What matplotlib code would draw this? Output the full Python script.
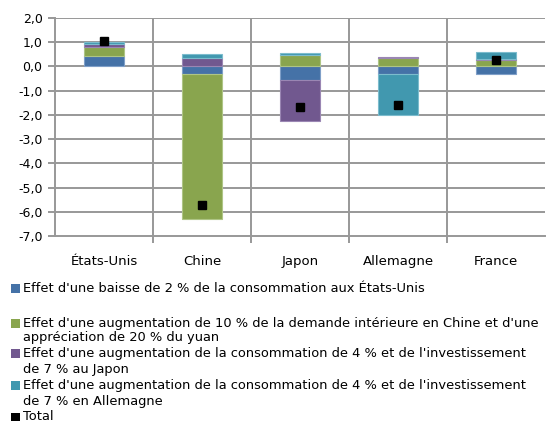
import matplotlib
matplotlib.use("Agg")
import matplotlib.pyplot as plt
from matplotlib.patches import Rectangle
from matplotlib.ticker import FuncFormatter, FixedLocator
import numpy as np

plt.rcParams['font.family'] = ['DejaVu Sans']

countries = ["États-Unis", "Chine", "Japon", "Allemagne", "France"]
us_consumption = [0.42, -0.30, -0.57, -0.30, -0.33]
china_demand = [0.38, -6.00, 0.46, 0.33, 0.25]
japan_stimulus = [0.13, 0.34, -1.70, 0.06, 0.05]
germany_stimulus = [0.09, 0.19, 0.11, -1.72, 0.31]
total = [1.04, -5.72, -1.67, -1.61, 0.27]

series_labels = [
    ["Effet d'une baisse de 2 % de la consommation aux États-Unis"],
    ["Effet d'une augmentation de 10 % de la demande intérieure en Chine et d'une",
     "appréciation de 20 % du yuan"],
    ["Effet d'une augmentation de la consommation de 4 % et de l'investissement",
     "de 7 % au Japon"],
    ["Effet d'une augmentation de la consommation de 4 % et de l'investissement",
     "de 7 % en Allemagne"],
]
total_label = "Total"
colors = ["#4572A7", "#89A54E", "#71588F", "#4198AF"]
edges = ["#7f9fc8", "#aec585", "#9a86b3", "#7cbccd"]

W, H = 547, 421
fig = plt.figure(figsize=(W / 100, H / 100), dpi=100)
ax = fig.add_axes([55 / W, 1 - 236 / H, 490 / W, 218 / H])

x = np.arange(len(countries))
pos_base = np.zeros(len(countries))
neg_base = np.zeros(len(countries))
for vals, c, ec in zip([us_consumption, china_demand, japan_stimulus, germany_stimulus], colors, edges):
    v = np.array(vals)
    base = np.where(v >= 0, pos_base, neg_base)
    ax.bar(x, v, bottom=base, width=0.4, color=c, edgecolor=ec, linewidth=0.8, zorder=3)
    pos_base = pos_base + np.where(v >= 0, v, 0)
    neg_base = neg_base + np.where(v < 0, v, 0)

ax.plot(x, total, linestyle="none", marker="s", markersize=5.2, color="black", zorder=4)

ax.set_xlim(-0.5, 4.5)
ax.set_ylim(-7, 2)
ax.yaxis.set_major_locator(FixedLocator(np.arange(-7, 2.01, 1)))
ax.yaxis.set_major_formatter(FuncFormatter(lambda v, p: f"{v:.1f}".replace(".", ",")))
ax.set_xticks(x)
ax.set_xticklabels(countries)
ax.xaxis.set_minor_locator(FixedLocator([0.5, 1.5, 2.5, 3.5]))

grid_c = "#989898"
for yv in np.arange(-6, 2.01, 1):
    ax.axhline(yv, color=grid_c, linewidth=1.4, zorder=1)
for xv in [0.5, 1.5, 2.5, 3.5]:
    ax.axvline(xv, color=grid_c, linewidth=1.4, zorder=1)

for s in ["top", "right"]:
    ax.spines[s].set_visible(False)
for s in ["left", "bottom"]:
    ax.spines[s].set_color(grid_c)
    ax.spines[s].set_linewidth(1.4)

ax.tick_params(axis="y", which="major", length=5, width=1.4, color=grid_c, labelsize=9, pad=4)
ax.tick_params(axis="x", which="major", length=0, labelsize=9.5, pad=14)
ax.tick_params(axis="x", which="minor", length=5, width=1.4, color=grid_c)

# legend below the plot: one square per entry, each text line placed on its own row
rows = [[288], [323, 338], [353, 369], [385, 401]]
for c, lines, ys in zip(colors, series_labels, rows):
    yc = ys[0]
    fig.patches.append(Rectangle((11 / W, 1 - (yc + 4.5) / H), 9 / W, 9 / H,
                                 transform=fig.transFigure, facecolor=c, edgecolor="none"))
    for line, ypx in zip(lines, ys):
        fig.text(23 / W, 1 - ypx / H, line, fontsize=9.4, va="center", ha="left")

fig.patches.append(Rectangle((11 / W, 1 - (416.5 + 4) / H), 9 / W, 8 / H,
                             transform=fig.transFigure, facecolor="black", edgecolor="none"))
fig.text(23 / W, 1 - 416 / H, total_label, fontsize=9.4, va="center", ha="left")

fig.savefig("out.png", dpi=100)
